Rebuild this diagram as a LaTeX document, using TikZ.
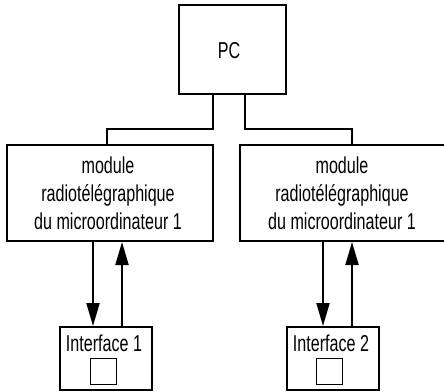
\documentclass[tikz,border=0pt]{standalone}
\usepackage{fontspec}
\setmainfont[FakeStretch=0.70]{Liberation Sans}
\usetikzlibrary{arrows.meta}
\tikzset{
  lbl/.style={font=\fontsize{23}{28}\selectfont, align=center, inner sep=0pt},
  box/.style={draw, line width=2pt, rectangle, inner sep=0pt, lbl},
  small/.style={draw, line width=1pt, rectangle, inner sep=0pt, minimum width=26pt, minimum height=26pt},
  wire/.style={line width=2pt},
  arr/.style={line width=2pt, -{Triangle[length=23pt,width=13pt]}},
}
\begin{document}
\begin{tikzpicture}[x=1pt,y=-1pt]
\useasboundingbox (0,0) rectangle (444,391);
\clip (0,0) rectangle (444,391);
\node[box, minimum width=107pt, minimum height=89pt] (pc) at (232.5,49.5) {};
\node[lbl] (pct) at (229,51) {PC};
\node[box, minimum width=206pt, minimum height=96pt] (mod1) at (110,193) {};
\node[lbl] (t1) at (108,193) {module\\radiotélégraphique\\du microordinateur 1};
\node[box, minimum width=205pt, minimum height=96pt] (mod2) at (342.5,193) {};
\node[lbl] (t2) at (342,193) {module\\radiotélégraphique\\du microordinateur 1};
\node[box, minimum width=92pt, minimum height=63pt] (if1) at (106,358.5) {};
\node[lbl] (l1) at (104,343) {Interface 1};
\node[small] (s1) at (103,371) {};
\node[box, minimum width=92pt, minimum height=63pt] (if2) at (333,358.5) {};
\node[lbl] (l2) at (331,343) {Interface 2};
\node[small] (s2) at (329.5,371) {};
\draw[wire] ([xshift=35pt]pc.south west) -- ++(0,34) -| ([xshift=-3pt]mod1.north);
\draw[wire] ([xshift=67pt]pc.south west) -- ++(0,34) -| ([xshift=9.5pt]mod2.north);
\draw[arr] (mod1.south -| 93,0) -- (if1.north -| 93,0);
\draw[arr] (if1.north -| 122,0) -- (mod1.south -| 122,0);
\draw[arr] (mod2.south -| 323,0) -- (if2.north -| 323,0);
\draw[arr] (if2.north -| 352,0) -- (mod2.south -| 352,0);
\end{tikzpicture}
\end{document}
